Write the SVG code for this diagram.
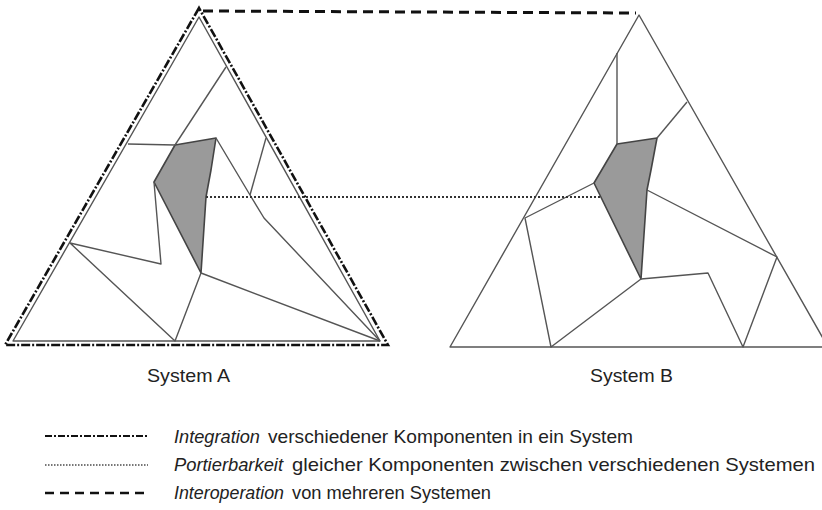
<svg xmlns="http://www.w3.org/2000/svg" width="822" height="510" viewBox="0 0 822 510">
<style>
.edge{fill:none;stroke:#555;stroke-width:1.4;stroke-linejoin:round}
.shade{fill:#9a9a9a;stroke:#444;stroke-width:1.6;stroke-linejoin:round}
.integ{fill:none;stroke:#111;stroke-width:2.6;stroke-dasharray:9 2 2 2;stroke-linejoin:miter}
.port{fill:none;stroke:#333;stroke-width:2.2;stroke-dasharray:2 2}
.inter{fill:none;stroke:#111;stroke-width:3;stroke-dasharray:10 6}
.lbl{font-family:"Liberation Sans",Arial,sans-serif;font-size:18.5px;fill:#222}
.it{font-style:italic}
</style>
<rect width="822" height="510" fill="#fff"/>
<g id="systemA">
<polygon class="edge" points="199,17 13,341 380,341"/>
<polygon class="shade" points="175,145 216,138 211,170 206,197 201,273 154,182"/>
<polyline class="edge" points="226,67 175,145"/>
<polyline class="edge" points="128,144 175,145"/>
<polyline class="edge" points="154,182 161,264 70,243 175,341 201,273 380,341"/>
<polyline class="edge" points="216,138 250,195 264,218 380,341"/>
<polyline class="edge" points="266,138 250,195"/>
<text class="lbl" x="147" y="382" textLength="83" lengthAdjust="spacingAndGlyphs">System A</text>
</g>
<g id="systemB">
<polygon class="edge" points="639,15 450,347 828,347"/>
<polygon class="shade" points="617,144 657,138 651,170 647,190 641,279 594,183"/>
<polyline class="edge" points="617,53 617,144"/>
<polyline class="edge" points="657,138 687,102"/>
<polyline class="edge" points="594,183 525,218 551,347 641,279 708,273 743,347 777,257 647,190"/>
<text class="lbl" x="590" y="382" textLength="83" lengthAdjust="spacingAndGlyphs">System B</text>
</g>
<g id="connectors">
<polygon class="integ" points="199,8 5,345 388,345"/>
<line class="port" x1="206" y1="197" x2="600" y2="197"/>
<line class="inter" x1="203" y1="11" x2="636" y2="13"/>
</g>
<g id="legend">
<line class="integ" x1="45" y1="436" x2="148" y2="436" style="stroke-width:2.2;stroke-dasharray:7 2 2 2"/>
<line class="port" x1="45" y1="465" x2="148" y2="465" style="stroke:#777;stroke-width:1.8;stroke-dasharray:1.5 1.5"/>
<line class="inter" x1="45" y1="493" x2="148" y2="493" style="stroke-width:2.6;stroke-dasharray:9 6"/>
<text class="lbl it" x="174" y="443" textLength="86" lengthAdjust="spacingAndGlyphs">Integration</text>
<text class="lbl" x="268" y="443" textLength="365" lengthAdjust="spacingAndGlyphs">verschiedener Komponenten in ein System</text>
<text class="lbl it" x="174" y="471" textLength="109" lengthAdjust="spacingAndGlyphs">Portierbarkeit</text>
<text class="lbl" x="292" y="471" textLength="523" lengthAdjust="spacingAndGlyphs">gleicher Komponenten zwischen verschiedenen Systemen</text>
<text class="lbl it" x="174" y="499" textLength="110" lengthAdjust="spacingAndGlyphs">Interoperation</text>
<text class="lbl" x="292" y="499" textLength="199" lengthAdjust="spacingAndGlyphs">von mehreren Systemen</text>
</g>
</svg>
